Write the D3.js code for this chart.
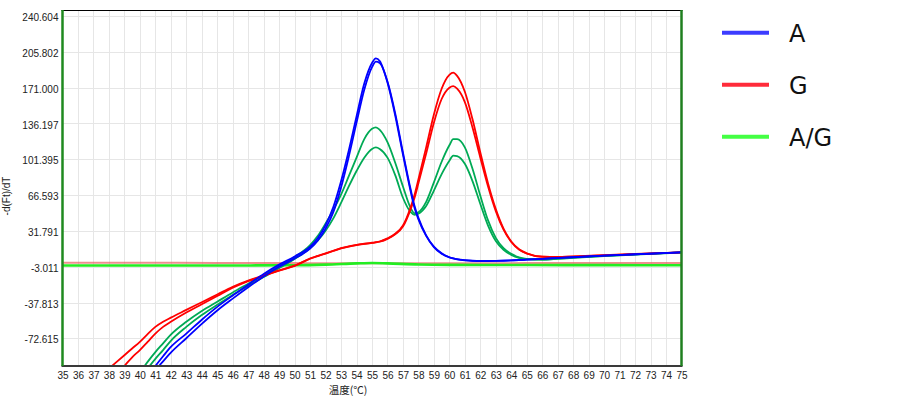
<!DOCTYPE html>
<html>
<head>
<meta charset="utf-8">
<script src="https://cdn.jsdelivr.net/npm/d3@7/dist/d3.min.js"></script>
<style>
  html, body { margin: 0; padding: 0; background: #fff; }
  svg { display: block; }
</style>
</head>
<body>
<svg id="chart" width="912" height="397"></svg>
<script>
// ---------------- DATA ----------------
const temps = [35,36,37,38,38.5,39,39.5,40,40.5,41,41.5,42,43,44,45,46,47,48,49,50,51,51.5,52,52.5,53,53.5,54,54.5,55,55.25,55.5,56,56.5,57,57.5,57.75,58,58.5,59,59.5,60,60.25,60.5,61,61.5,62,62.5,63,63.5,64,64.5,65,66,67,68,70,72,75];

const blue1 = [null,null,null,null,null,null,null,-120,-110,-99.5,-90,-81,-68,-54.5,-42,-31,-20.5,-10,-1,7,16.5,25,37.5,55,80,110,143,175,195,199.5,197,176,144,106,70,54,43,27,16,9.5,6,5,4.2,3.2,2.7,2.5,2.5,2.6,2.8,3.1,3.4,3.8,4.6,5.4,6.2,7.7,9,11];
const blue2 = [null,null,null,null,null,null,null,null,-118,-104,-95,-86.5,-72.5,-58.5,-45.5,-34,-23,-12.5,-3,5,14.5,22.5,34,50,74,104,137,169,191,196.3,195,177,146,108,72,56,44.5,27.5,16.5,10,6.2,5.2,4.4,3.4,2.8,2.6,2.6,2.7,2.9,3.2,3.5,3.9,4.7,5.5,6.3,7.8,9.1,11.1];
const red1 = [null,null,null,-102,-95.5,-89,-82.5,-76,-68.5,-61.5,-56.5,-52.5,-45,-37.5,-30,-22.5,-16.5,-11.5,-6.5,-2,5,7.5,10,12.5,15,16.8,18.2,19.3,20.3,20.8,21.5,24.5,29,37,55,67,82,113,145,170,183.5,185.6,182.5,167,140,108,78,53,34,21.5,14,10,6.8,6.5,7,8.2,9.4,11];
const red2 = [null,null,null,null,-111,-99.5,-91,-84,-76,-68,-61.5,-56.5,-47.5,-39.5,-31.5,-23.5,-17,-12,-6.8,-2.2,4.8,7.3,9.8,12.3,14.8,16.6,18,19.1,20.1,20.6,21.3,24,28.5,36,53,64,78,107,137,160,171,172.6,170,157,132,103,75,51,33,21,13.7,9.8,6.7,6.4,6.9,8.1,9.3,10.9];
const ag1 = [null,null,null,null,null,null,-116,-106,-95.5,-86,-77.5,-69,-56.5,-46,-37,-28,-19.5,-11,-2.5,6.5,18,27,39,52,67,85,103,121,131,132.5,130,118,98,75,54,49,50,60,79,99,115,121,121,113,92,66,42,25,15,9.5,6,4.5,4,4.8,5.8,7.5,9,11];
const ag2 = [null,null,null,null,null,null,null,-112,-102,-92.5,-84,-75,-61.5,-50,-40,-30.5,-21.5,-13,-4.5,4.5,15,22.5,32,44,59,75,90,103,111.5,113,111.5,103,86,64,50,47.5,48.5,56,71,87,100,105,104.5,97,80,58,37,22,13.5,8.5,5.5,4.3,4,4.7,5.6,7.3,8.8,10.8];

// flat negative-control traces
const baseTemps = [35,40,45,50,52,54,55,56,58,60,65,70,75];
const baseGreen = [-1.8,-1.8,-1.8,-1.6,-1.0,0.2,0.6,0.2,-0.8,-1.2,-1.4,-1.5,-1.6];
const baseRed   = [0.8,0.8,0.7,0.5,0.4,0.3,0.3,0.3,0.3,0.4,0.5,0.6,0.6];

const xTicks = [35,36,37,38,39,40,41,42,43,44,45,46,47,48,49,50,51,52,53,54,55,56,57,58,59,60,61,62,63,64,65,66,67,68,69,70,71,72,73,74,75];
const yTickLabels = ["240.604","205.802","171.000","136.197","101.395","66.593","31.791","-3.011","-37.813","-72.615"];

const legendLabels = ["A","G","A/G"];
const legendColors = ["#3c3cff","#ff2b3a","#44ff44"];

// ---------------- LAYOUT ----------------
const svg = d3.select("#chart");
const L = 62.5, R = 681.5, T = 10, B = 366;
const x = d3.scaleLinear().domain([35, 75]).range([L, R]);
const y = d3.scaleLinear().domain([-99.5, 246.5]).range([B, T]);
const yTicks = yTickLabels.map(Number);

// gridlines
const grid = svg.append("g");
grid.selectAll("line.v").data(xTicks.filter(t => t > 35 && t < 75)).enter()
  .append("line").attr("x1", d => Math.round(x(d)) + 0.5).attr("x2", d => Math.round(x(d)) + 0.5)
  .attr("y1", T).attr("y2", B).attr("stroke", "#e6e6e6").attr("stroke-width", 1);
grid.selectAll("line.h").data(yTicks).enter()
  .append("line").attr("x1", L).attr("x2", R)
  .attr("y1", d => Math.round(y(d)) + 0.5).attr("y2", d => Math.round(y(d)) + 0.5)
  .attr("stroke", "#e6e6e6").attr("stroke-width", 1);

// clip
svg.append("defs").append("clipPath").attr("id", "plotclip")
  .append("rect").attr("x", L).attr("y", T).attr("width", R - L).attr("height", B - T);

const plot = svg.append("g").attr("clip-path", "url(#plotclip)");

const line = d3.line()
  .defined(d => d[1] !== null)
  .x(d => x(d[0])).y(d => y(d[1]))
  .curve(d3.curveMonotoneX);

function draw(ts, vals, color, w, op) {
  plot.append("path")
    .datum(ts.map((t, i) => [t, vals[i]]))
    .attr("d", line)
    .attr("fill", "none")
    .attr("stroke", color)
    .attr("stroke-width", w)
    .attr("stroke-opacity", op)
    .attr("stroke-linejoin", "round");
}

draw(baseTemps, baseRed, "#e86060", 2, 0.7);
draw(baseTemps, baseGreen, "#22ee22", 2.6, 1);
draw(temps, ag1, "#00aa55", 1.8, 1);
draw(temps, ag2, "#00aa55", 1.8, 1);
draw(temps, red1, "#ff0000", 1.8, 1);
draw(temps, red2, "#ff0000", 1.8, 1);
draw(temps, blue1, "#0000ff", 1.8, 1);
draw(temps, blue2, "#0000ff", 1.8, 1);

// borders
svg.append("line").attr("x1", L - 1).attr("x2", R + 1).attr("y1", T + 0.5).attr("y2", T + 0.5)
  .attr("stroke", "#000").attr("stroke-width", 1);
svg.append("line").attr("x1", L - 1).attr("x2", R + 1).attr("y1", B).attr("y2", B)
  .attr("stroke", "#3a3a3a").attr("stroke-width", 2);
svg.append("line").attr("x1", L).attr("x2", L).attr("y1", T).attr("y2", B)
  .attr("stroke", "#1f8a1f").attr("stroke-width", 2.5);
svg.append("line").attr("x1", R).attr("x2", R).attr("y1", T).attr("y2", B)
  .attr("stroke", "#1f7f1f").attr("stroke-width", 2.5);

// axes
const font = "'Liberation Sans', Arial, sans-serif";
const xAxis = svg.append("g").attr("transform", `translate(0,${B})`)
  .call(d3.axisBottom(x).tickValues(xTicks).tickSize(0).tickPadding(6).tickFormat(d3.format("d")));
xAxis.select(".domain").remove();
xAxis.selectAll("text").attr("font-family", font).attr("font-size", 10).attr("fill", "#222");

const yAxis = svg.append("g").attr("transform", `translate(${L},0)`)
  .call(d3.axisLeft(y).tickValues(yTicks).tickSize(0).tickPadding(4)
    .tickFormat((d, i) => yTickLabels[i]));
yAxis.select(".domain").remove();
yAxis.selectAll("text").attr("font-family", font).attr("font-size", 10).attr("fill", "#222").attr("dy", "0.46em");

// axis titles
svg.append("text").attr("x", 348).attr("y", 394).attr("text-anchor", "middle")
  .attr("font-family", "'Noto Sans CJK SC', sans-serif").attr("font-size", 10.5).attr("fill", "#222")
  .text("温度(℃)");
svg.append("text").attr("transform", "translate(10,196) rotate(-90)").attr("text-anchor", "middle")
  .attr("font-family", font).attr("font-size", 10).attr("fill", "#222")
  .text("-d(Ft)/dT");

// legend
const lg = svg.append("g");
legendLabels.forEach((lab, i) => {
  const cy = 32.7 + i * 52;
  lg.append("line").attr("x1", 722).attr("x2", 769).attr("y1", cy).attr("y2", cy)
    .attr("stroke", legendColors[i]).attr("stroke-width", 4);
  lg.append("text").attr("x", 789).attr("y", cy + 9).attr("font-family", "'DejaVu Sans', sans-serif")
    .attr("font-size", 24).attr("fill", "#111").text(lab);
});
</script>
</body>
</html>
